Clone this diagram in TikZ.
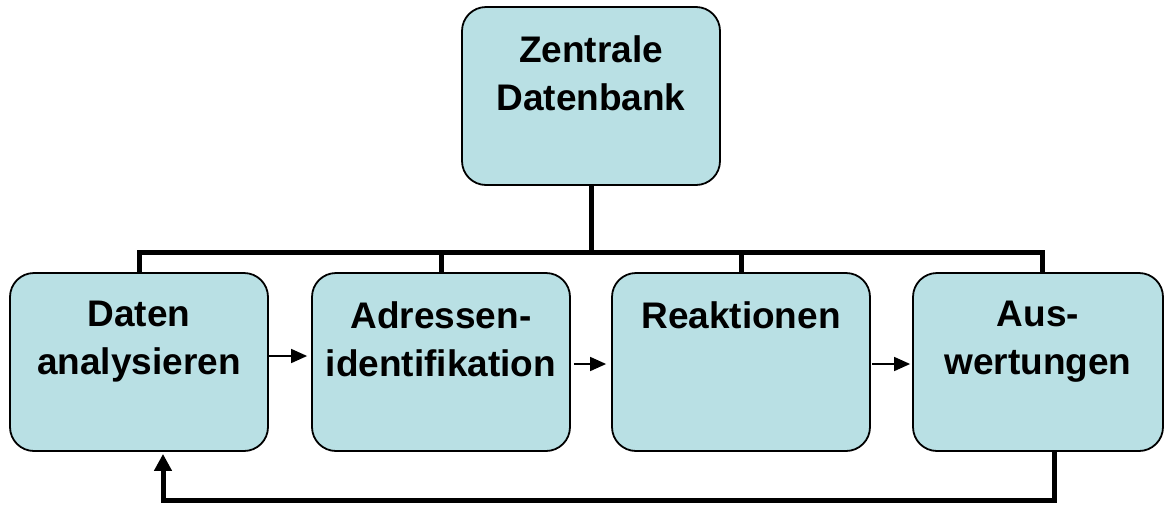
\documentclass[tikz,border=0pt]{standalone}
\usepackage{fontspec}
\setmainfont{Liberation Sans}
\usetikzlibrary{arrows.meta,positioning}
\definecolor{boxfill}{RGB}{185,224,228}
\begin{document}
\begin{tikzpicture}[x=1pt,y=-1pt,
  box/.style={draw,line width=1.8pt,rounded corners=24pt,fill=boxfill,
    minimum width=258pt,minimum height=178pt,inner sep=0pt},
  boxtext/.style={anchor=north,inner sep=0pt,align=center,
    font=\fontsize{37}{48}\selectfont\bfseries},
  bus/.style={line width=5pt},
  flow/.style={line width=1.6pt,-{Triangle[length=16pt,width=14pt]}},
  back/.style={line width=5pt,-{Triangle[length=17pt,width=17pt]}}]
  \useasboundingbox (0,0) rectangle (1165,504);
  \node[box] (db) at (591,96) {};
  \node[box] (da) at (139,362) {};
  \node[box] (ai) at (441,362) {};
  \node[box] (re) at (741,362) {};
  \node[box,minimum width=250pt] (aw) at (1038,362) {};
  \node[boxtext] (dbt) at ([yshift=-29pt]db.north) {Zentrale\\Datenbank};
  \node[boxtext] (dat) at ([yshift=-29pt]da.north) {Daten\\analysieren};
  \node[boxtext] (ait) at ([yshift=-29pt]ai.north) {Adressen-\\identifikation};
  \node[boxtext] (ret) at ([yshift=-29pt]re.north) {Reaktionen};
  \node[boxtext] (awt) at ([yshift=-29pt]aw.north) {Aus-\\wertungen};
  \coordinate (busl) at (139,252);
  \coordinate (busr) at (1042,252);
  \draw[bus] (db.south) -- (db.south |- busl);
  \draw[bus] (da.north) -- (busl) -- (busr) -- (aw.north -| busr);
  \draw[bus] (ai.north) -- (ai.north |- busl);
  \draw[bus] (re.north) -- (re.north |- busl);
  \draw[flow] ([yshift=6pt]da.east) -- ([xshift=-4pt,yshift=6pt]ai.west);
  \draw[flow] ([xshift=3pt,yshift=-2pt]ai.east) -- ([xshift=-5pt,yshift=-2pt]re.west);
  \draw[flow] ([xshift=1pt,yshift=-2pt]re.east) -- ([xshift=-2pt,yshift=-2pt]aw.west);
  \coordinate (fbr) at (1054,500);
  \coordinate (fbl) at (163,500);
  \draw[back] (aw.south -| fbr) -- (fbr) -- (fbl) -- ([yshift=-2pt]fbl |- da.south);
\end{tikzpicture}
\end{document}
